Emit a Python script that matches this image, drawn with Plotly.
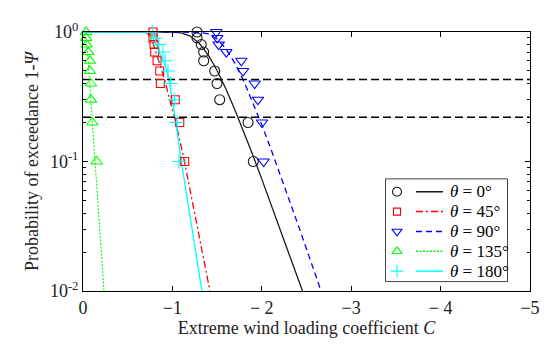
import plotly.graph_objects as go

# ---------------- data ----------------
p_levels = [1.0, 0.9, 0.8, 0.7, 0.6, 0.5, 0.4, 0.3, 0.2, 0.1]

c_0 = [-1.275, -1.275, -1.323, -1.35, -1.35, -1.473, -1.499, -1.529, -1.846, -1.905]
c_45 = [-0.783, -0.783, -0.794, -0.802, -0.828, -0.858, -0.865, -1.032, -1.082, -1.138]
c_90 = [-1.491, -1.502, -1.518, -1.603, -1.771, -1.790, -1.920, -1.957, -2.002, -2.02]
c_135 = [-0.034, -0.034, -0.041, -0.059, -0.078, -0.078, -0.089, -0.089, -0.104, -0.153]
c_180 = [-0.775, -0.812, -0.85, -0.895, -0.92, -0.951, -0.981, -1.025, -1.055, -1.074]

fit0_c = [0, -0.9, -1.0, -1.1, -1.2, -1.3, -1.4, -1.5, -1.6, -1.7, -1.8, -1.9, -2.0, -2.2, -2.4, -2.455]
fit0_p = [1.0, 1.0, 0.9985, 0.984, 0.930, 0.818, 0.665, 0.504, 0.362, 0.250, 0.1686, 0.1117, 0.0731, 0.0307, 0.01275, 0.0100]

fit45_c = [0, -0.68, -0.72, -0.75, -0.783, -0.839, -0.913, -0.969, -1.025, -1.135, -1.28, -1.42]
fit45_p = [1.0, 1.0, 0.98, 0.92, 0.82, 0.61, 0.43, 0.30, 0.218, 0.10, 0.032, 0.01]

fit90_c = [0, -1.2, -1.3, -1.4, -1.5, -1.6, -1.7, -1.8, -1.9, -2.0, -2.1, -2.2, -2.4, -2.6, -2.66]
fit90_p = [1.0, 0.9998, 0.9954, 0.966, 0.882, 0.741, 0.573, 0.415, 0.287, 0.192, 0.126, 0.0815, 0.0333, 0.01336, 0.0101]

fit135_c = [0, -0.02, -0.04, -0.058, -0.077, -0.105, -0.137, -0.186, -0.235]
fit135_p = [1.0, 1.0, 0.8, 0.6, 0.38, 0.2, 0.1, 0.032, 0.01]

fit180_c = [0, -0.70, -0.74, -0.78, -0.82, -0.87, -0.93, -0.96, -1.03, -1.10, -1.33]
fit180_p = [1.0, 1.0, 0.98, 0.90, 0.79, 0.66, 0.527, 0.43, 0.22, 0.10, 0.01]

ref_levels = [0.43, 0.22]
ref_span = [0, -5]

x_ticks = [0, -1, -2, -3, -4, -5]
x_ticktext = ["0", "\u22121", "\u2212 2", "\u22123", "\u2212 4", "\u22125"]
y_ticks = [0.01, 0.1, 1]
y_ticktext = ["10<sup>-2</sup>", "10<sup>-1</sup>", "10<sup>0</sup>"]
y_minor = [0.02, 0.03, 0.04, 0.05, 0.06, 0.07, 0.08, 0.09,
           0.2, 0.3, 0.4, 0.5, 0.6, 0.7, 0.8, 0.9]

legend_labels = ["<i>\u03b8</i> = 0\u00b0", "<i>\u03b8</i> = 45\u00b0", "<i>\u03b8</i> = 90\u00b0",
                 "<i>\u03b8</i> = 135\u00b0", "<i>\u03b8</i> = 180\u00b0"]

# ---------------- styles ----------------
FONT = "Liberation Serif, Times New Roman, serif"
colors = ["#1a1a1a", "#ff0000", "#0000ff", "#00ff00", "#00ffff"]
symbols = ["circle-open", "square-open", "triangle-down-open", "triangle-up-open", "cross-thin-open"]
msizes = [10, 8, 10, 10, 10]
dashes = ["solid", "7px,3px,2px,3px", "6px,4px", "2px,1.5px", "solid"]
widths = [1.3, 1.3, 1.3, 1.1, 1.3]

fig = go.Figure()

fits = [(fit0_c, fit0_p), (fit45_c, fit45_p), (fit90_c, fit90_p), (fit135_c, fit135_p), (fit180_c, fit180_p)]
for (cx, cp), col, dsh, w in zip(fits, colors, dashes, widths):
    fig.add_trace(go.Scatter(x=cx, y=cp, mode="lines",
                             line=dict(color=col, width=w, dash=dsh),
                             showlegend=False, hoverinfo="skip"))

for lvl in ref_levels:
    fig.add_trace(go.Scatter(x=ref_span, y=[lvl, lvl], mode="lines",
                             line=dict(color="black", width=1.5, dash="8px,4px"),
                             showlegend=False, hoverinfo="skip"))

samples = [c_0, c_45, c_90, c_135, c_180]
for cx, col, sym, ms in zip(samples, colors, symbols, msizes):
    fig.add_trace(go.Scatter(x=cx, y=p_levels, mode="markers",
                             marker=dict(symbol=sym, size=ms, color=col,
                                         line=dict(color=col, width=1.1)),
                             cliponaxis=False, showlegend=False))

# ---------------- hand-made legend (MATLAB style: marker | line | text) ----------------
L, R, T, B = 75, 522, 22, 283
def px(X):
    return (X - L) / (R - L)
def py(Y):
    return (B - Y) / (B - T)

box = dict(x0=px(377.5), x1=px(499.5), y0=py(273.5), y1=py(170))
fig.add_shape(type="rect", xref="paper", yref="paper", **box,
              line=dict(color="#444444", width=1), fillcolor="white", layer="below")

rows_y = [183, 203, 223, 243, 263]
leg_mx = [px(389)] * 5
leg_my = [py(y) for y in rows_y]
for i in range(5):
    fig.add_trace(go.Scatter(x=[leg_mx[i]], y=[leg_my[i]], xaxis="x2", yaxis="y2",
                             mode="markers",
                             marker=dict(symbol=symbols[i], size=msizes[i] - 1, color=colors[i],
                                         line=dict(color=colors[i], width=1.1)),
                             cliponaxis=False, showlegend=False, hoverinfo="skip"))
    fig.add_shape(type="line", xref="paper", yref="paper",
                  x0=px(408), x1=px(435), y0=leg_my[i], y1=leg_my[i],
                  line=dict(color=colors[i], width=1.5, dash=dashes[i]), layer="above")
    fig.add_annotation(x=px(440), y=leg_my[i], xref="paper", yref="paper",
                       text=legend_labels[i], showarrow=False, xanchor="left", yanchor="middle",
                       font=dict(family=FONT, size=17, color="black"))

axis_common = dict(showline=True, linecolor="black", linewidth=1, mirror="ticks",
                   ticks="inside", tickcolor="black", showgrid=False, zeroline=False,
                   tickfont=dict(family=FONT, size=18, color="#222222"))

fig.update_layout(
    width=550, height=347,
    margin=dict(l=L, r=550 - R, t=T, b=347 - B),
    paper_bgcolor="white", plot_bgcolor="white",
    showlegend=False,
    font=dict(family=FONT, color="#222222"),
    xaxis=dict(range=[0, -5], tickvals=x_ticks, ticktext=x_ticktext, ticklen=5,
               title=dict(text="Extreme wind loading coefficient <i>C</i>",
                          font=dict(family=FONT, size=18), standoff=2),
               **axis_common),
    yaxis=dict(type="log", range=[-2, 0], tickvals=y_ticks, ticktext=y_ticktext, ticklen=5,
               minor=dict(tickvals=y_minor, ticks="inside", ticklen=3, tickcolor="black"),
               title=dict(text="Probability of exceedance 1-<i>\u03a8</i>",
                          font=dict(family=FONT, size=18), standoff=6),
               **axis_common),
    xaxis2=dict(overlaying="x", range=[0, 1], visible=False, fixedrange=True),
    yaxis2=dict(overlaying="y", range=[0, 1], visible=False, fixedrange=True),
)

fig.write_html("out.html")
